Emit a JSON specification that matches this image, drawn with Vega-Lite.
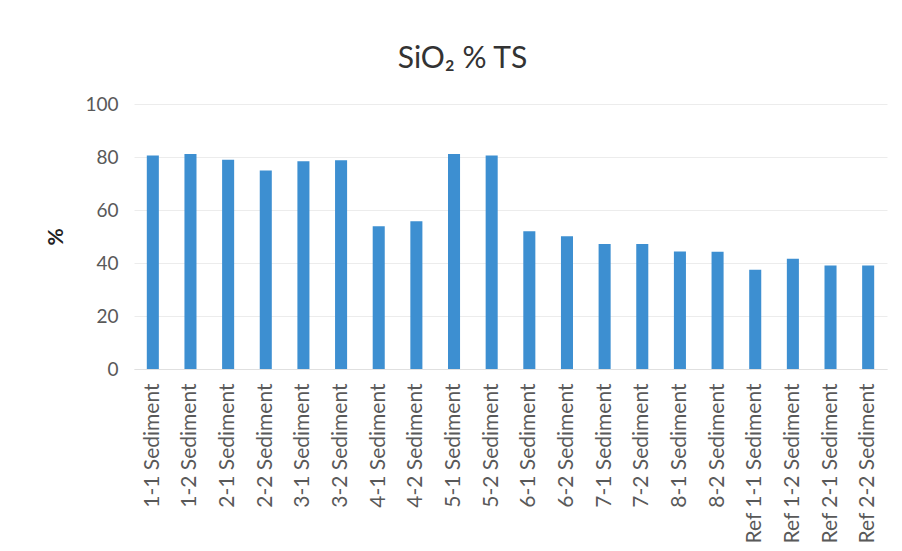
{
  "$schema": "https://vega.github.io/schema/vega-lite/v6.json",
  "width": 753,
  "height": 265,
  "autosize": {"type": "none"},
  "padding": {"left": 134, "top": 104, "right": 15, "bottom": 182},
  "background": "white",
  "title": {
    "text": "SiO₂ % TS",
    "fontSize": 30,
    "font": "Lato",
    "fontWeight": "normal",
    "color": "#333333",
    "anchor": "middle",
    "dx": -48,
    "offset": 21
  },
  "data": {
    "values": [
      {"sample": "1-1 Sediment", "value": 80.6},
      {"sample": "1-2 Sediment", "value": 81.1},
      {"sample": "2-1 Sediment", "value": 79.0},
      {"sample": "2-2 Sediment", "value": 74.9},
      {"sample": "3-1 Sediment", "value": 78.4},
      {"sample": "3-2 Sediment", "value": 78.8},
      {"sample": "4-1 Sediment", "value": 53.9},
      {"sample": "4-2 Sediment", "value": 55.8},
      {"sample": "5-1 Sediment", "value": 81.1},
      {"sample": "5-2 Sediment", "value": 80.6},
      {"sample": "6-1 Sediment", "value": 52.0},
      {"sample": "6-2 Sediment", "value": 50.1},
      {"sample": "7-1 Sediment", "value": 47.2},
      {"sample": "7-2 Sediment", "value": 47.2},
      {"sample": "8-1 Sediment", "value": 44.3},
      {"sample": "8-2 Sediment", "value": 44.2},
      {"sample": "Ref 1-1 Sediment", "value": 37.5},
      {"sample": "Ref 1-2 Sediment", "value": 41.6},
      {"sample": "Ref 2-1 Sediment", "value": 39.1},
      {"sample": "Ref 2-2 Sediment", "value": 39.1}
    ]
  },
  "mark": {"type": "bar", "color": "#3d8fd1"},
  "encoding": {
    "x": {
      "field": "sample",
      "type": "nominal",
      "sort": null,
      "scale": {"paddingInner": 0.68, "paddingOuter": 0.34},
      "axis": {
        "title": null,
        "labelAngle": -90,
        "labelFont": "Lato",
        "labelFontSize": 21,
        "labelColor": "#595959",
        "labelPadding": 14,
        "ticks": false,
        "domainColor": "#e0e0e0",
        "grid": false
      }
    },
    "y": {
      "field": "value",
      "type": "quantitative",
      "scale": {"domain": [0, 100]},
      "axis": {
        "title": "%",
        "titleFont": "Lato",
        "titleFontSize": 21,
        "titleFontWeight": "bold",
        "titleColor": "#222222",
        "titlePadding": 18,
        "values": [0, 20, 40, 60, 80, 100],
        "labelFont": "Lato",
        "labelFontSize": 19,
        "labelColor": "#595959",
        "labelPadding": 16,
        "ticks": false,
        "domain": false,
        "grid": true,
        "gridColor": "#ececec"
      }
    }
  },
  "config": {"view": {"stroke": null}}
}
